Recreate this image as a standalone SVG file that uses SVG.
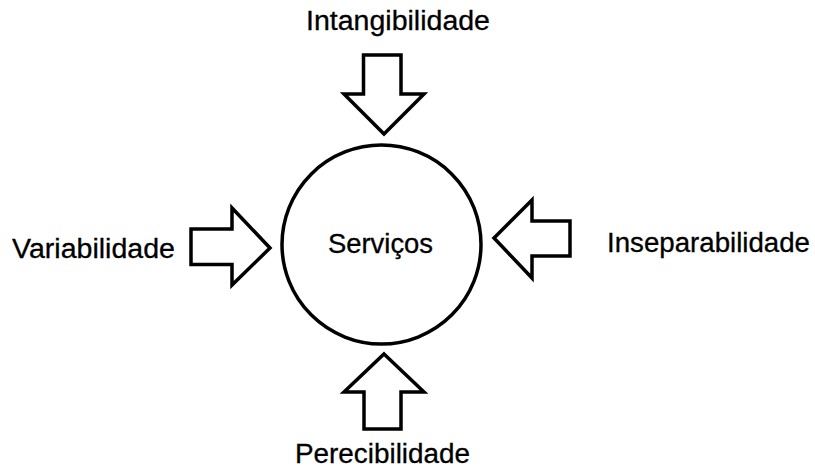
<svg xmlns="http://www.w3.org/2000/svg" width="815" height="468" viewBox="0 0 815 468">
<style>
.lbl{font-family:"Liberation Sans",Arial,sans-serif;font-size:27px;fill:#000;stroke:#000;stroke-width:0.3}
.arr{fill:#fff;stroke:#000;stroke-width:3.5;stroke-linejoin:miter}
.node{fill:#fff;stroke:#000;stroke-width:3.5}
</style>
<rect width="815" height="468" fill="#fff"/>
<g id="servicos">
<circle class="node" cx="381.5" cy="244.5" r="99.5"/>
<text class="lbl" x="328" y="253" textLength="105" lengthAdjust="spacingAndGlyphs">Serviços</text>
</g>
<g id="intangibilidade">
<text class="lbl" x="306" y="30" textLength="184" lengthAdjust="spacingAndGlyphs">Intangibilidade</text>
</g>
<g id="variabilidade">
<text class="lbl" x="12" y="258" textLength="163" lengthAdjust="spacingAndGlyphs">Variabilidade</text>
</g>
<g id="inseparabilidade">
<text class="lbl" x="607" y="252" textLength="203" lengthAdjust="spacingAndGlyphs">Inseparabilidade</text>
</g>
<g id="perecibilidade">
<text class="lbl" x="295" y="463" textLength="175" lengthAdjust="spacingAndGlyphs">Perecibilidade</text>
</g>
<g id="connectors">
<polygon class="arr" points="363.5,55 401,55 401,94 424,94 384,134 344,94 363.5,94"/>
<polygon class="arr" points="384,354 424,392 401,392 401,429 364,429 364,392 344,392"/>
<polygon class="arr" points="191,229 232,229 232,208 270,248 232,285 232,264.5 191,264.5"/>
<polygon class="arr" points="570,221 532,221 532,200 494,238 532,278 532,256 570,256"/>
</g>
</svg>
